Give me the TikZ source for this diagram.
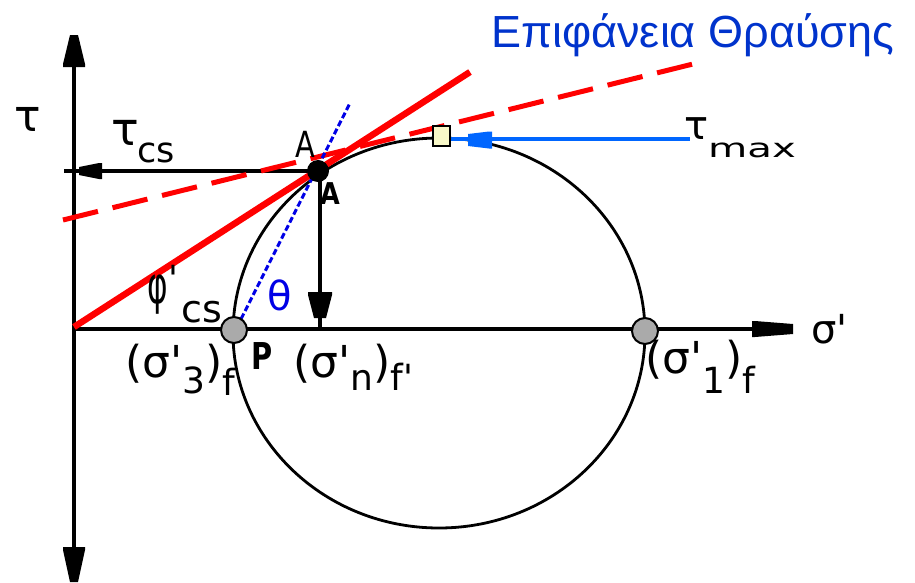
\documentclass[tikz,border=0pt]{standalone}
\usepackage{fontspec}
\setmainfont{DejaVu Sans}[Ligatures=TeXOff]
\newfontfamily\lab{DejaVu Sans}[Ligatures=TeXOff]
\newfontfamily\ttl{Liberation Sans}
\definecolor{ttlblue}{RGB}{0,51,204}
\definecolor{maxblue}{RGB}{0,102,255}
\definecolor{dotblue}{RGB}{0,0,230}
\definecolor{pale}{RGB}{248,248,200}
\definecolor{ptgray}{RGB}{170,170,170}
\definecolor{fred}{RGB}{255,0,0}
\newcommand\fs[1]{\fontsize{#1}{#1}\selectfont}
\newcommand\bhead[5]{\fill[shift={#1},rotate=#2] (-#3,-#4/2) -- (-#3+3,-#4/2) -- (0,-#5/2) -- (0,#5/2) -- (-#3+3,#4/2) -- (-#3,#4/2) -- cycle;}
\begin{document}
\begin{tikzpicture}[x=1pt,y=-1pt,
  axisline/.style={line width=3.6pt},
  blackline/.style={line width=3.2pt},
  curve/.style={line width=2.8pt},
  lbl/.style={inner sep=0pt, font=\lab},
  endpt/.style={circle, draw, line width=2pt, fill=ptgray, minimum size=26pt, inner sep=0pt},
  marker/.style={draw, line width=2pt, fill=pale, minimum width=17pt, minimum height=20pt, inner sep=0pt}
]
\useasboundingbox (0,0) rectangle (915,582);
% coordinates
\coordinate (O) at (74,329);
\coordinate (Ytop) at (74,35);
\coordinate (Ybot) at (74,582);
\coordinate (Xend) at (793,329);
\coordinate (A) at (318,171);
\coordinate (Acs) at (64,171);
\coordinate (Av) at (320,171);
\coordinate (An) at (320,329);
\coordinate (Rs) at (74,327);
\coordinate (Re) at (470,72);
\coordinate (Ds) at (63,220);
\coordinate (De) at (697,63);
\coordinate (Bs) at (237,327);
\coordinate (Be) at (350,103);
\coordinate (Tm) at (441,139);
\coordinate (TmE) at (690,139);
% Mohr circle
\draw[curve] (439,333) ellipse [x radius=206, y radius=195];
% axes
\draw[axisline] (Ytop) -- (Ybot);
\draw[axisline] (O) -- (Xend);
% tau_cs and sigma_n lines
\draw[blackline] (Acs) -- (A);
\draw[blackline] (Av) -- (An);
% failure envelopes
\draw[fred, line width=6.5pt] (Rs) -- (Re);
\draw[fred, line width=5pt, dash pattern=on 36pt off 15pt] (Ds) -- (De);
% pole line
\draw[dotblue, line width=3pt, dash pattern=on 6pt off 3pt] (Bs) -- (Be);
% tau max
\draw[maxblue, line width=3.2pt] (Tm) -- (TmE);
% arrow heads
\bhead{(74,35)}{90}{32}{22}{8}
\bhead{(74,582)}{-90}{35}{22}{8}
\bhead{(79,171)}{180}{23}{16}{8}
\bhead{(320,318)}{-90}{26}{24}{12}
\bhead{(793,329)}{0}{41}{16}{10}
\begin{scope}[maxblue]
\bhead{(468,140)}{180}{24}{17}{12}
\end{scope}
% points
\node[marker] (top) at (441,136) {};
\node[endpt] (P) at (234,330) {};
\node[endpt] (Q) at (645,331) {};
\fill (A) circle[radius=11];
% labels
\node[lbl, font=\lab\fs{44}] (tauy) at (27.5,119) {τ};
\node[lbl, font=\lab\fs{46}] (taucs) at (125,133) {τ};
\node[lbl, font=\lab\fs{35}] (taucssub) at (156,152.5) {cs};
\node[lbl, font=\lab\fs{36}] (Alab) at (305,144) {\scalebox{0.8}[1]{A}};
\node[lbl, font=\lab\bfseries\fs{30}] (Alab2) at (330,194) {\scalebox{0.85}[1]{A}};
\node[lbl, font=\lab\fs{40}] (taumax) at (697,128.5) {τ};
\node[lbl, font=\lab\fs{26}, anchor=base west] (maxsub) at (708,157) {\scalebox{1.55}[1]{max}};
\node[lbl, font=\lab\fs{52}] (phi) at (158,294.5) {\scalebox{0.6}[1]{φ}};
\node[lbl, font=\lab\fs{36}] (phiprime) at (173.5,278) {'};
\node[lbl, font=\lab\fs{38}] (phics) at (202,312.5) {cs};
\node[lbl, font=\lab\fs{40}, text=dotblue] (theta) at (280,295) {θ};
\node[lbl, font=\lab\bfseries\fs{37}] (Plab) at (262.5,356.5) {\scalebox{0.78}[1]{P}};
\node[lbl, font=\lab\fs{44}, anchor=base west] (s3) at (125,377) {(σ'\raisebox{-16pt}{\fs{36}3})\raisebox{-18pt}{\fs{36}f}};
\node[lbl, font=\lab\fs{44}, anchor=base west] (sn) at (293,377) {(σ'\raisebox{-13pt}{\fs{36}n})\raisebox{-13pt}{\fs{36}f'}};
\node[lbl, font=\lab\fs{44}, anchor=base west] (s1) at (645,373) {(σ'\raisebox{-20pt}{\fs{36}1})\raisebox{-20pt}{\fs{36}f}};
\node[lbl, font=\lab\fs{40}, anchor=base west] (sig) at (811,343) {σ'};
\node[lbl, font=\ttl\fs{45}, text=ttlblue, anchor=base west] (title) at (491,47) {Επιφάνεια Θραύσης};
\end{tikzpicture}
\end{document}
